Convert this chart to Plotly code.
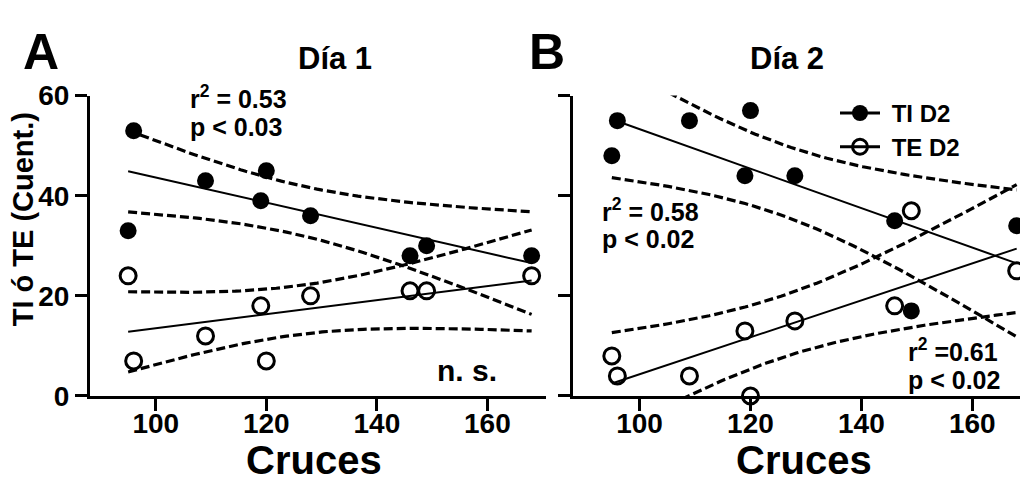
import numpy as np
import plotly.graph_objects as go

# ---------------- data ----------------
cruces = [95, 96, 109, 119, 120, 128, 146, 149, 168]
ti_d1 = [33, 53, 43, 39, 45, 36, 28, 30, 28]
te_d1 = [24, 7, 12, 18, 7, 20, 21, 21, 24]
ti_d2 = [48, 55, 55, 44, 57, 44, 35, 17, 34]
te_d2 = [8, 4, 4, 13, 0, 15, 18, 37, 25]
x_ticks = [100, 120, 140, 160]
y_ticks = [0, 20, 40, 60]
T_CRIT = 2.365  # t(0.975, df = 7)

W, H = 1020, 494
FONT = "Liberation Sans, Arial, Helvetica, sans-serif"


def px(x):
    return x / W


def py(y):
    return 1 - y / H


def fit_band(x, y, n=80):
    x = np.asarray(x, float)
    y = np.asarray(y, float)
    b, a = np.polyfit(x, y, 1)
    xs = np.linspace(x.min(), x.max(), n)
    yhat = a + b * xs
    resid = y - (a + b * x)
    s = np.sqrt(np.sum(resid ** 2) / (len(x) - 2))
    sxx = np.sum((x - x.mean()) ** 2)
    se = s * np.sqrt(1 / len(x) + (xs - x.mean()) ** 2 / sxx)
    return xs, yhat, yhat - T_CRIT * se, yhat + T_CRIT * se


fig = go.Figure()


def add_panel(xa, ya, ti, te):
    for yy in (ti, te):
        xs, yhat, lo, hi = fit_band(cruces, yy)
        fig.add_trace(go.Scatter(x=xs, y=yhat, mode="lines", xaxis=xa, yaxis=ya,
                                 line=dict(color="black", width=2), showlegend=False,
                                 hoverinfo="skip"))
        for band in (lo, hi):
            fig.add_trace(go.Scatter(x=xs, y=band, mode="lines", xaxis=xa, yaxis=ya,
                                     line=dict(color="black", width=3.2, dash="9px,4px"),
                                     showlegend=False, hoverinfo="skip"))
    fig.add_trace(go.Scatter(x=cruces, y=ti, mode="markers", xaxis=xa, yaxis=ya,
                             marker=dict(symbol="circle", size=17, color="black"),
                             cliponaxis=False, showlegend=False))
    fig.add_trace(go.Scatter(x=cruces, y=te, mode="markers", xaxis=xa, yaxis=ya,
                             marker=dict(symbol="circle-open", size=16, color="black",
                                         line=dict(width=3)),
                             cliponaxis=False, showlegend=False))


add_panel("x", "y", ti_d1, te_d1)
add_panel("x2", "y2", ti_d2, te_d2)

# legend entries (GraphPad style: symbol on a short line)
fig.add_trace(go.Scatter(x=[None], y=[None], mode="lines+markers", name="\u00a0TI D2",
                         xaxis="x2", yaxis="y2", legend="legend",
                         line=dict(color="black", width=3),
                         marker=dict(symbol="circle", size=16, color="black")))
fig.add_trace(go.Scatter(x=[None], y=[None], mode="lines+markers", name="\u00a0TE D2",
                         xaxis="x2", yaxis="y2", legend="legend2",
                         line=dict(color="black", width=3),
                         marker=dict(symbol="circle-open", size=15, color="black",
                                     line=dict(width=3))))

ax_common = dict(showgrid=False, zeroline=False, showline=True, linecolor="black",
                 linewidth=3, ticks="outside", ticklen=12, tickwidth=3, tickcolor="black",
                 tickfont=dict(family=FONT, size=28, color="black", weight="bold"))

fig.update_layout(
    width=W, height=H,
    margin=dict(l=0, r=0, t=0, b=0),
    paper_bgcolor="white", plot_bgcolor="white",
    xaxis=dict(domain=[px(90), px(546)], range=[88.1, 170.6], tickvals=x_ticks,
               anchor="y", ticklabelstandoff=-12, **ax_common),
    yaxis=dict(domain=[py(406.5), py(86)], range=[0, 60], tickvals=y_ticks,
               anchor="x", **ax_common),
    xaxis2=dict(domain=[px(573), 1.0], range=[88.0, 168.6], tickvals=x_ticks,
                anchor="y2", ticklabelstandoff=-12, **ax_common),
    yaxis2=dict(domain=[py(406.5), py(86)], range=[0, 60], tickvals=y_ticks,
                showticklabels=False, anchor="x2", **ax_common),
    legend=dict(x=px(835), y=py(105), xanchor="left", yanchor="middle",
                bgcolor="rgba(0,0,0,0)", itemwidth=40,
                font=dict(family=FONT, size=24, color="black", weight="bold")),
    legend2=dict(x=px(835), y=py(141), xanchor="left", yanchor="middle",
                 bgcolor="rgba(0,0,0,0)", itemwidth=40,
                 font=dict(family=FONT, size=24, color="black", weight="bold")),
    showlegend=True,
)


def ann(text, x, y, size, xanchor="center", yanchor="middle", angle=0):
    fig.add_annotation(text=text, x=px(x), y=py(y), xref="paper", yref="paper",
                       xanchor=xanchor, yanchor=yanchor, showarrow=False, textangle=angle,
                       font=dict(family=FONT, size=size, color="black", weight="bold"))


ann("A", 41, 39, 50)
ann("B", 547, 39, 50)
ann("Día 1", 335, 46, 31)
ann("Día 2", 787, 46, 31)
ann("Cruces", 314, 475, 40)
ann("Cruces", 804, 475, 40)
ann("TI ó TE (Cuent.)", 23, 218, 29, angle=-90)
ann("r<sup>2</sup> = 0.53", 188, 88, 25, xanchor="left")
ann("p &lt; 0.03", 188, 119, 25, xanchor="left")
ann("n. s.", 467, 379, 30)
ann("r<sup>2</sup> = 0.58", 600, 208, 25, xanchor="left")
ann("p &lt; 0.02", 600, 239, 25, xanchor="left")
ann("r<sup>2</sup> =0.61", 906, 357, 25, xanchor="left")
ann("p &lt; 0.02", 906, 389, 25, xanchor="left")

fig.write_html("out.html", config={"displayModeBar": False},
               post_script="document.body.style.margin='0';")
